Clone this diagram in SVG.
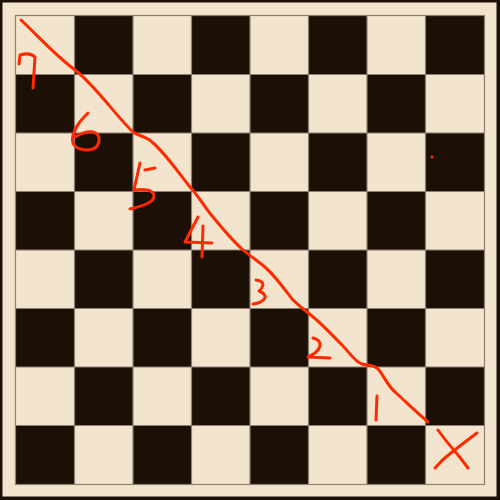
<svg xmlns="http://www.w3.org/2000/svg" width="500" height="500" viewBox="0 0 500 500">
<defs>
<style>
.l{fill:#f3e5cd}
.d{fill:#1c1006}
.g{fill:none;stroke:#8a7f72;stroke-width:1.2}
.r{fill:none;stroke:#ff2a00;stroke-width:3;stroke-linecap:round;stroke-linejoin:round}
</style>
<pattern id="chk" x="16" y="16" width="117" height="117" patternUnits="userSpaceOnUse">
<rect class="l" x="0" y="0" width="117" height="117"/>
<rect class="d" x="58.5" y="0" width="58.5" height="58.5"/>
<rect class="d" x="0" y="58.5" width="58.5" height="58.5"/>
</pattern>
</defs>
<rect class="d" x="0" y="0" width="500" height="500"/>
<rect class="l" x="2.5" y="2.5" width="494" height="494"/>
<g id="board">
<rect x="16" y="16" width="468" height="468" fill="url(#chk)"/>
<path class="g" d="M74.5,16V484M133,16V484M191.5,16V484M250,16V484M308.5,16V484M367,16V484M425.5,16V484M16,74.5H484M16,133H484M16,191.5H484M16,250H484M16,308.5H484M16,367H484M16,425.5H484"/>
<rect class="g" x="15.5" y="15.5" width="469" height="469"/>
</g>
<g id="path">
<path class="r" d="M21,20 C40,38 55,55 75,70 C95,85 115,115 133,132 C138,136 146,136 152,142 C165,153 178,172 190,187 C200,198 205,208 213,217 C222,228 232,240 242,249 C250,256 258,261 266,268 C276,277 285,290 293,300 C300,307 305,310 312,316 C322,324 332,335 342,345 C350,353 355,362 362,364 C368,366 374,364 379,370 C385,378 388,386 395,392 C405,401 416,412 428,422"/>
</g>
<g id="labels">
<path class="r" d="M19,64 L20,55 Q30,52 35,57 L33,88"/>
<path class="r" d="M88,113 C82,119 76,125 73,135 C71,143 74,149 86,150 C96,150 99,145 99,139 C99,133 93,131 87,132 C82,133 78,135 75,137"/>
<path class="r" d="M140,163 L134,190 C142,189 154,189 154,196 C154,203 142,206 130,209"/>
<path class="r" d="M145,170 L155,168"/>
<path class="r" d="M198,217 L185,242 L212,243"/>
<path class="r" d="M203,226 L202,257"/>
<path class="r" d="M256,280 Q263,281 263,285 Q262,289 259,291 Q266,294 265,298 Q262,303 253,304"/>
<path class="r" d="M313,338 Q321,340 320,346 Q318,353 308,357 L330,358"/>
<path class="r" d="M377,396 L376,420"/>
<path class="r" d="M438,430 C445,440 452,448 458,455 C462,460 465,464 468,468"/>
<path class="r" d="M477,433 C465,442 452,452 446,457 C441,461 438,465 435,468"/>
<circle cx="432" cy="157" r="1.6" fill="#ff2a00"/>
</g>
</svg>
